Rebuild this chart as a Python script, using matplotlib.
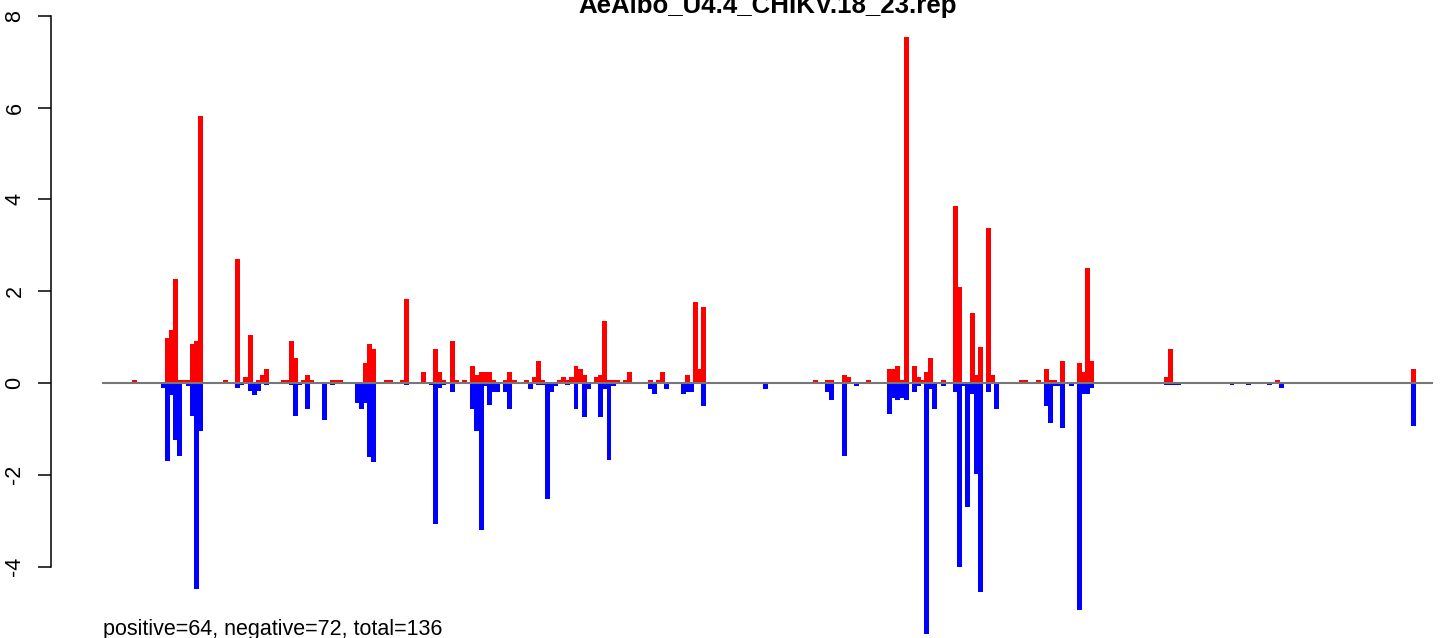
import matplotlib
matplotlib.use("Agg")
import matplotlib.pyplot as plt

plt.rcParams['font.family'] = ['Liberation Sans', 'DejaVu Sans']
plt.rcParams['axes.unicode_minus'] = False

title = "AeAlbo_U4.4_CHIKV.18_23.rep"
note = "positive=64, negative=72, total=136"

# region covered by the reads (in position units)
region_start = -7.6
region_end = 314.5

# positive strand (red, above zero)
pos_x = [0, 8, 9, 10, 11, 12, 13, 14, 15, 16, 22, 25, 27, 28, 30, 31, 32,
         36, 37, 38, 39, 41, 42, 43, 48, 49, 50, 56, 57, 58, 61, 62, 65, 66,
         70, 73, 74, 75, 77, 78, 80, 82, 83, 84, 85, 86, 87, 90, 91, 92, 95,
         97, 98, 99, 103, 104, 105, 106, 107, 108, 109, 112, 113, 114, 115,
         116, 117, 119, 120, 125, 127, 128, 134, 136, 137, 138, 165, 168, 169,
         172, 173, 178, 183, 184, 185, 186, 187, 189, 190, 191, 192, 193, 196,
         199, 200, 203, 204, 205, 207, 208, 215, 216, 219, 221, 222, 223, 225,
         229, 230, 231, 232, 250, 251, 277, 310]
pos_y = [0.07, 0.98, 1.15, 2.27, 0.07, 0.07, 0.07, 0.85, 0.92, 5.82, 0.07,
         2.70, 0.12, 1.05, 0.07, 0.17, 0.30, 0.07, 0.07, 0.92, 0.55, 0.07,
         0.17, 0.07, 0.07, 0.07, 0.07, 0.44, 0.85, 0.74, 0.07, 0.07, 0.07,
         1.83, 0.24, 0.74, 0.24, 0.07, 0.92, 0.07, 0.07, 0.37, 0.17, 0.24,
         0.24, 0.24, 0.07, 0.07, 0.24, 0.07, 0.07, 0.12, 0.48, 0.07, 0.07,
         0.12, 0.07, 0.12, 0.37, 0.31, 0.17, 0.12, 0.17, 1.35, 0.07, 0.07,
         0.07, 0.07, 0.24, 0.07, 0.07, 0.24, 0.17, 1.76, 0.31, 1.65, 0.07,
         0.07, 0.07, 0.17, 0.12, 0.07, 0.30, 0.30, 0.37, 0.07, 7.54, 0.37,
         0.12, 0.07, 0.23, 0.54, 0.07, 3.85, 2.09, 1.52, 0.17, 0.78, 3.37,
         0.17, 0.07, 0.07, 0.07, 0.31, 0.07, 0.07, 0.48, 0.44, 0.24, 2.51,
         0.48, 0.12, 0.74, 0.07, 0.31]

# negative strand (blue, below zero)
neg_x = [7, 8, 9, 10, 11, 13, 14, 15, 16, 25, 26, 28, 29, 30, 32, 38, 39, 40,
         42, 46, 48, 54, 55, 56, 57, 58, 66, 72, 73, 74, 75, 77, 82, 83, 84,
         85, 86, 87, 88, 90, 91, 96, 98, 99, 100, 101, 102, 105, 107, 109, 110,
         113, 114, 115, 116, 125, 126, 129, 133, 134, 135, 138, 153, 168, 169,
         172, 175, 183, 184, 185, 186, 187, 189, 190, 192, 193, 194, 196, 199,
         200, 201, 202, 203, 204, 205, 207, 209, 221, 222, 223, 224, 225, 227,
         229, 230, 231, 232, 250, 251, 252, 253, 266, 270, 275, 278, 310]
neg_y = [-0.12, -1.71, -0.26, -1.24, -1.60, -0.06, -0.73, -4.48, -1.04, -0.12,
         -0.05, -0.17, -0.26, -0.17, -0.04, -0.05, -0.73, -0.05, -0.57, -0.80,
         -0.05, -0.43, -0.57, -0.43, -1.61, -1.72, -0.05, -0.05, -3.07, -0.12,
         -0.05, -0.19, -0.56, -1.04, -3.20, -0.06, -0.49, -0.19, -0.19, -0.19,
         -0.56, -0.13, -0.05, -0.05, -2.53, -0.19, -0.06, -0.05, -0.56, -0.74,
         -0.13, -0.74, -0.13, -1.68, -0.06, -0.13, -0.25, -0.13, -0.25, -0.19,
         -0.19, -0.50, -0.13, -0.19, -0.36, -1.60, -0.06, -0.68, -0.33, -0.36,
         -0.33, -0.36, -0.20, -0.07, -5.47, -0.13, -0.57, -0.07, -0.20, -4.01,
         -0.07, -2.70, -0.25, -1.98, -4.56, -0.20, -0.57, -0.50, -0.87, -0.06,
         -0.06, -0.99, -0.06, -4.95, -0.25, -0.25, -0.12, -0.05, -0.05, -0.05,
         -0.05, -0.05, -0.05, -0.05, -0.12, -0.93]

yticks = [-4, -2, 0, 2, 4, 6, 8]

fig = plt.figure(figsize=(14.41, 6.38), dpi=100)
ax = fig.add_axes([0, 0, 1, 1])
ax.patch.set_visible(False)

ax.bar(pos_x, pos_y, width=1.2, color='#ff0000', linewidth=0)
ax.bar(neg_x, neg_y, width=1.2, color='#0000ff', linewidth=0)
ax.plot([region_start, region_end], [0, 0], color='#777777', lw=1.5, zorder=3)

ax.set_xlim(-32.6, 316.65)
ax.set_ylim(-5.556, 8.344)

for s in ['top', 'right', 'bottom']:
    ax.spines[s].set_visible(False)
ax.spines['left'].set_position(('data', -20.24))
ax.spines['left'].set_bounds(-4, 8)
ax.spines['left'].set_linewidth(1.1)
ax.set_xticks([])
ax.set_yticks(yticks)
ax.set_yticklabels([str(t) for t in yticks])
ax.tick_params(axis='y', direction='out', length=9.4, width=1.1, pad=9,
               labelsize=15.5, labelrotation=90)
for lab in ax.get_yticklabels():
    lab.set_va('center')

fig.text(768 / 1441, 1 - 12.5 / 638, title, ha='center', va='baseline',
         fontsize=18.6, fontweight='bold')
fig.text(103 / 1441, 1 - 635 / 638, note, ha='left', va='baseline',
         fontsize=15.5)

fig.savefig("out.png", dpi=100)
